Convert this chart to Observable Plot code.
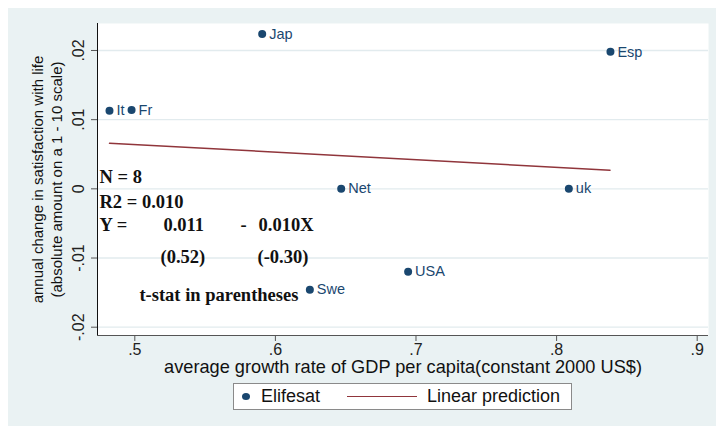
<!DOCTYPE html>
<html><head><meta charset="utf-8">
<script src="https://cdn.jsdelivr.net/npm/d3@7"></script>
<script src="https://cdn.jsdelivr.net/npm/@observablehq/plot@0.6"></script>
<style>
body{margin:0;background:#fff;}
#bg{position:absolute;left:8px;top:8px;width:708px;height:418px;background:#eaf2f3;}
#chart{position:absolute;left:0;top:0;}
#legend{position:absolute;left:225px;top:375px;width:337px;height:25px;background:#fff;border:1px solid #8a8a8a;font-family:"Liberation Sans",Arial,sans-serif;font-size:18px;color:#111;}
#legend .dot{position:absolute;left:8px;top:9px;width:8px;height:7px;border-radius:50%;background:#1a476f;}
#legend .ln{position:absolute;left:113px;top:12px;width:70px;height:0;border-top:1.5px solid #90353b;}
#legend .t{position:absolute;top:2px;line-height:20px;white-space:nowrap;}
</style></head><body>
<div id="bg"><div id="chart"></div>
<div id="legend"><div class="dot"></div><div class="t" style="left:27px">Elifesat</div><div class="ln"></div><div class="t" style="left:193px">Linear prediction</div></div>
</div>
<script>
const countries = ["Jap","Esp","It","Fr","Net","uk","USA","Swe"];
const gdpGrowth = [0.5906,0.8383,0.482,0.4977,0.6468,0.8087,0.6944,0.6245];
const lifesatChange = [0.0224,0.0198,0.0113,0.0114,0.0000,0.0000,-0.0120,-0.0146];
const fitX = [0.482,0.838];
const fitY = [0.0066,0.0027];
const xTicks = [0.5,0.6,0.7,0.8,0.9];
const yTicks = [-0.02,-0.01,0,0.01,0.02];
const xDomain = [0.47347,0.90804];
const yDomain = [-0.0212,0.0239];
const annText = ["N = 8","R2 = 0.010","Y =","0.011","-","0.010X","(0.52)","(-0.30)","t-stat in parentheses"];
const annX = [0.4749,0.4749,0.4749,0.5204,0.5752,0.5880,0.5183,0.5873,0.5033];
const annY = [0.00164,-0.00193,-0.0053,-0.0053,-0.0053,-0.0053,-0.00992,-0.00992,-0.01542];
const xTitle = "average growth rate of GDP per capita(constant 2000 US$)";
const yTitle1 = "annual change in satisfaction with life";
const yTitle2 = "(absolute amount on a 1 - 10 scale)";

const pts = countries.map((c,i)=>({c, x:gdpGrowth[i], y:lifesatChange[i]}));
const fit = fitX.map((x,i)=>({x, y:fitY[i]}));
const ann = annText.map((t,i)=>({t, x:annX[i], y:annY[i]}));
const fmt = d => d === 0 ? "0" : String(d).replace(/^(-?)0\./, "$1.");

const chart = Plot.plot({
  width:708, height:372, marginLeft:89, marginTop:15, marginRight:8, marginBottom:45,
  style:{background:"transparent", fontFamily:"Liberation Sans, Arial, sans-serif", color:"#222"},
  x:{domain:xDomain},
  y:{domain:yDomain},
  marks:[
    Plot.frame({fill:"white", stroke:null}),
    Plot.ruleY(yTicks, {stroke:"#e2ebee", strokeWidth:1.3}),
    Plot.line(fit, {x:"x", y:"y", stroke:"#90353b", strokeWidth:1.5}),
    Plot.dot(pts, {x:"x", y:"y", r:4, fill:"#1a476f", stroke:null}),
    Plot.text(pts, {x:"x", y:"y", text:"c", dx:7, textAnchor:"start", fill:"#1a476f", fontSize:14.5}),
    Plot.text(ann, {x:"x", y:"y", text:"t", textAnchor:"start", fontFamily:"Liberation Serif, serif", fontWeight:"bold", fontSize:18.5, fill:"#111"}),
    Plot.ruleX([xDomain[0]], {stroke:"#111", strokeWidth:1}),
    Plot.ruleY([yDomain[0]], {stroke:"#555", strokeWidth:1}),
    Plot.axisX({ticks:xTicks, tickFormat:fmt, tickSize:6, tickPadding:2, fontSize:16, label:null, stroke:"#555"}),
    Plot.axisY({ticks:yTicks, tickFormat:fmt, tickRotate:-90, tickSize:6, tickPadding:8, fontSize:16, label:null, stroke:"#555"}),
    Plot.text([xTitle], {text:d=>d, frameAnchor:"bottom", dy:32, lineAnchor:"middle", fontSize:18.2, fill:"#111"}),
    Plot.text([yTitle1], {text:d=>d, frameAnchor:"left", dx:-59, rotate:-90, textAnchor:"middle", lineAnchor:"middle", fontSize:15, fill:"#111"}),
    Plot.text([yTitle2], {text:d=>d, frameAnchor:"left", dx:-40, rotate:-90, textAnchor:"middle", lineAnchor:"middle", fontSize:15, fill:"#111"})
  ]
});
document.getElementById("chart").appendChild(chart);
</script>
</body></html>
